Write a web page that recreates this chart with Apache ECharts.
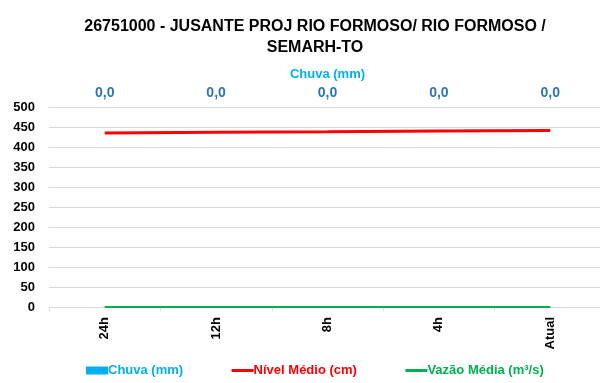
<!DOCTYPE html>
<html>
<head>
<meta charset="utf-8">
<style>
  html, body { margin: 0; padding: 0; background: #fff; }
  #chart { width: 600px; height: 383px; }
</style>
<script src="https://cdn.jsdelivr.net/npm/echarts@6/dist/echarts.min.js"></script>
</head>
<body>
<div id="chart"></div>
<script>
// Station readings for the last 24 hours
const periods = ['24h', '12h', '8h', '4h', 'Atual'];
const chuva = [0, 0, 0, 0, 0];                 // mm
const nivelMedio = [435, 437, 438, 440, 441];  // cm
const vazaoMedia = [0, 0, 0, 0, 0];            // m³/s
const yTicks = { min: 0, max: 500, interval: 50 };

const FONT = "'Liberation Sans', sans-serif";
const fmtChuva = v => v.toFixed(1).replace('.', ',');

const chart = echarts.init(document.getElementById('chart'), null, { renderer: 'canvas' });
chart.setOption({
  animation: false,
  textStyle: { fontFamily: FONT },
  title: {
    text: '26751000 - JUSANTE PROJ RIO FORMOSO/ RIO FORMOSO /\nSEMARH-TO',
    left: 310, top: 11, textAlign: 'center',
    textStyle: { fontFamily: FONT, fontSize: 16, fontWeight: 'bold', color: '#000', lineHeight: 21 }
  },
  // plot area runs slightly past the right edge of the canvas
  grid: { left: 49, width: 557, top: 107, bottom: 76, containLabel: false, outerBoundsMode: 'none' },
  legend: {
    bottom: 6, left: 86, padding: 0, itemGap: 47, itemWidth: 22, itemHeight: 8,
    textStyle: { fontFamily: FONT, fontSize: 13, fontWeight: 'bold', padding: [0, 0, 0, -5] },
    data: [
      { name: 'Chuva (mm)', icon: 'rect', textStyle: { color: '#00B0F0' } },
      { name: 'Nível Médio (cm)', itemStyle: { opacity: 0 }, lineStyle: { width: 3 }, textStyle: { color: '#FF0000' } },
      { name: 'Vazão Média (m³/s)', itemStyle: { opacity: 0 }, lineStyle: { width: 3 }, textStyle: { color: '#00B050' } }
    ]
  },
  xAxis: [
    {
      type: 'category', data: periods, position: 'bottom',
      axisLine: { lineStyle: { color: '#d9d9d9' } },
      axisTick: { show: true, length: 4, lineStyle: { color: '#d9d9d9' } },
      axisLabel: { rotate: 90, margin: 10, fontSize: 13, fontWeight: 'bold', color: '#000', fontFamily: FONT }
    },
    {
      type: 'category', data: chuva.map(fmtChuva), position: 'top',
      name: 'Chuva (mm)', nameLocation: 'middle', nameGap: 25,
      nameTextStyle: { color: '#00B0F0', fontSize: 13, fontWeight: 'bold', fontFamily: FONT },
      axisLine: { show: false }, axisTick: { show: false },
      axisLabel: { margin: 7, fontSize: 14, fontWeight: 'bold', color: '#2E75B6', fontFamily: FONT }
    }
  ],
  yAxis: {
    type: 'value', min: yTicks.min, max: yTicks.max, interval: yTicks.interval,
    axisLine: { show: false }, axisTick: { show: false },
    splitLine: { lineStyle: { color: '#d9d9d9', width: 1 } },
    axisLabel: { margin: 14, fontSize: 13, fontWeight: 'bold', color: '#000', fontFamily: FONT }
  },
  series: [
    {
      name: 'Chuva (mm)', type: 'bar', data: chuva, xAxisIndex: 0,
      itemStyle: { color: '#00B0F0' }, barWidth: '60%'
    },
    {
      name: 'Nível Médio (cm)', type: 'line', data: nivelMedio, xAxisIndex: 0,
      symbol: 'none', lineStyle: { color: '#FF0000', width: 3 }, itemStyle: { color: '#FF0000' }
    },
    {
      name: 'Vazão Média (m³/s)', type: 'line', data: vazaoMedia, xAxisIndex: 0,
      symbol: 'none', lineStyle: { color: '#00B050', width: 2 }, itemStyle: { color: '#00B050' }
    }
  ]
});
</script>
</body>
</html>
